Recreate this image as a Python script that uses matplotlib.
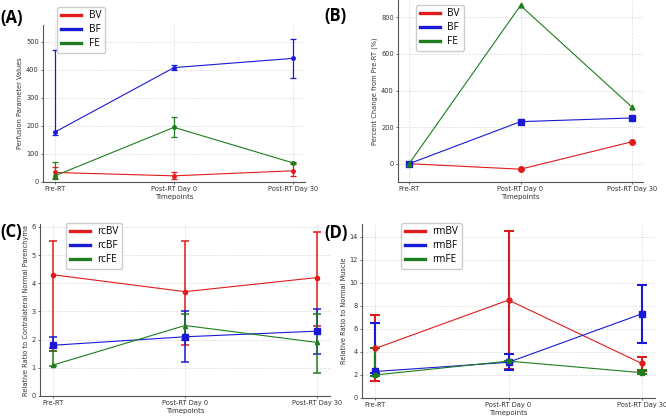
import numpy as np
import matplotlib
matplotlib.use("Agg")
import matplotlib.pyplot as plt

# timepoints
timepoints = ["Pre-RT", "Post-RT Day 0", "Post-RT Day 30"]

# (A) raw perfusion values: mean, lower, upper
bv_mean = [34, 22, 40]
bv_low = [16, 12, 22]
bv_high = [54, 35, 68]
bf_mean = [178, 408, 441]
bf_low = [168, 400, 372]
bf_high = [470, 416, 510]
fe_mean = [22, 195, 68]
fe_low = [10, 160, 65]
fe_high = [70, 232, 71]

# (B) percent change from Pre-RT
pct_bv = [0, -30, 120]
pct_bf = [0, 230, 250]
pct_fe = [0, 865, 310]

# (C) ratio to contralateral normal parenchyma
rcbv_mean = [4.3, 3.7, 4.2]
rcbv_low = [1.6, 1.8, 2.5]
rcbv_high = [5.5, 5.5, 5.8]
rcbf_mean = [1.8, 2.1, 2.3]
rcbf_low = [1.7, 1.2, 1.5]
rcbf_high = [2.1, 3.0, 3.1]
rcfe_mean = [1.1, 2.5, 1.9]
rcfe_low = [1.05, 2.0, 0.8]
rcfe_high = [1.6, 2.9, 2.9]

# (D) ratio to normal muscle
rmbv_mean = [4.3, 8.5, 3.0]
rmbv_low = [1.5, 2.5, 2.3]
rmbv_high = [7.2, 14.5, 3.6]
rmbf_mean = [2.3, 3.1, 7.3]
rmbf_low = [2.2, 2.4, 4.8]
rmbf_high = [6.5, 3.8, 9.8]
rmfe_mean = [2.0, 3.2, 2.2]
rmfe_low = [1.9, 3.1, 2.1]
rmfe_high = [4.3, 3.2, 2.4]

colors = ["#e01b1b", "#1a1ad6", "#1e7d1e"]
W, H = 666, 416

fig = plt.figure(figsize=(W / 100, H / 100), dpi=100)


def make_ax(left, right, top, bottom):
    ax = fig.add_axes([left / W, 1 - bottom / H, (right - left) / W, (bottom - top) / H])
    for s in ["top", "right"]:
        ax.spines[s].set_visible(False)
    for s in ["left", "bottom"]:
        ax.spines[s].set_color("#555555")
        ax.spines[s].set_linewidth(0.8)
    ax.grid(True, color="#dddddd", linestyle="--", linewidth=0.5)
    ax.set_axisbelow(True)
    ax.tick_params(labelsize=4.8, length=1.5, width=0.5, colors="#333333", pad=1.5)
    ax.set_xticks(range(len(timepoints)))
    ax.set_xticklabels(timepoints)
    ax.set_xlabel("Timepoints", fontsize=5, labelpad=1.5, color="#333333")
    return ax


def err(mean, low, high):
    m = np.array(mean)
    return [m - np.array(low), np.array(high) - m]


def legend(ax, names, x, y):
    handles = [plt.Line2D([], [], color=c, lw=2.4) for c in colors]
    ax.legend(handles, names, loc="upper left", bbox_to_anchor=(x / W, 1 - y / H),
              bbox_transform=fig.transFigure, prop={"family": "Open Sans", "size": 7.2},
              handlelength=2.0, borderpad=0.35, labelspacing=0.3, framealpha=1,
              edgecolor="#cccccc", fancybox=True)


def panel_label(text, x, y):
    fig.text(x / W, 1 - y / H, text, fontsize=12, fontweight="bold", family="Open Sans",
             va="center", ha="left")


x = np.arange(len(timepoints))

# (A)
ax = make_ax(43, 305, 25, 182)
for m, lo, hi, c in [(bv_mean, bv_low, bv_high, colors[0]),
                     (bf_mean, bf_low, bf_high, colors[1]),
                     (fe_mean, fe_low, fe_high, colors[2])]:
    ax.errorbar(x, m, yerr=err(m, lo, hi), color=c, marker="o", ms=2.5, lw=0.8,
                elinewidth=0.9, capsize=2.2, capthick=0.9)
ax.set_ylim(0, 560)
ax.set_yticks([0, 100, 200, 300, 400, 500])
ax.set_ylabel("Perfusion Parameter Values", fontsize=4.8, labelpad=2, color="#333333")
legend(ax, ["BV", "BF", "FE"], 52, 2)
panel_label("(A)", 0, 18)

# (B)
ax = make_ax(398, 643, 0, 182)
ax.plot(x, pct_bv, color=colors[0], marker="o", ms=4, lw=0.8)
ax.plot(x, pct_bf, color=colors[1], marker="s", ms=4, lw=0.8)
ax.plot(x, pct_fe, color=colors[2], marker="^", ms=3.5, lw=0.8)
ax.set_ylim(-100, 895)
ax.set_yticks([0, 200, 400, 600, 800])
ax.set_ylabel("Percent Change from Pre-RT (%)", fontsize=4.8, labelpad=2, color="#333333")
legend(ax, ["BV", "BF", "FE"], 411, 0)
panel_label("(B)", 324, 16)

# (C)
ax = make_ax(40, 330, 224, 396)
for m, lo, hi, c, mk, ms in [(rcbv_mean, rcbv_low, rcbv_high, colors[0], "o", 3),
                             (rcbf_mean, rcbf_low, rcbf_high, colors[1], "s", 4),
                             (rcfe_mean, rcfe_low, rcfe_high, colors[2], "^", 3)]:
    ax.errorbar(x, m, yerr=err(m, lo, hi), color=c, marker=mk, ms=ms, lw=0.8,
                elinewidth=1.1, capsize=2.6, capthick=1.1)
ax.set_ylim(0, 6.1)
ax.set_yticks(range(0, 7))
ax.set_ylabel("Relative Ratio to Contralateral Normal Parenchyma", fontsize=4.8,
              labelpad=2, color="#333333")
legend(ax, ["rcBV", "rcBF", "rcFE"], 61, 218)
panel_label("(C)", 0, 232)

# (D)
ax = make_ax(362, 655, 224, 398)
for m, lo, hi, c, mk, ms in [(rmbv_mean, rmbv_low, rmbv_high, colors[0], "o", 3.5),
                             (rmbf_mean, rmbf_low, rmbf_high, colors[1], "s", 4),
                             (rmfe_mean, rmfe_low, rmfe_high, colors[2], "s", 3.5)]:
    ax.errorbar(x, m, yerr=err(m, lo, hi), color=c, marker=mk, ms=ms, lw=0.8,
                elinewidth=1.5, capsize=3.6, capthick=1.5)
ax.set_ylim(0, 15.1)
ax.set_yticks(range(0, 15, 2))
ax.set_ylabel("Relative Ratio to Normal Muscle", fontsize=4.8, labelpad=2, color="#333333")
legend(ax, ["rmBV", "rmBF", "rmFE"], 396, 218)
panel_label("(D)", 324, 233)

fig.savefig("out.png", dpi=100)
